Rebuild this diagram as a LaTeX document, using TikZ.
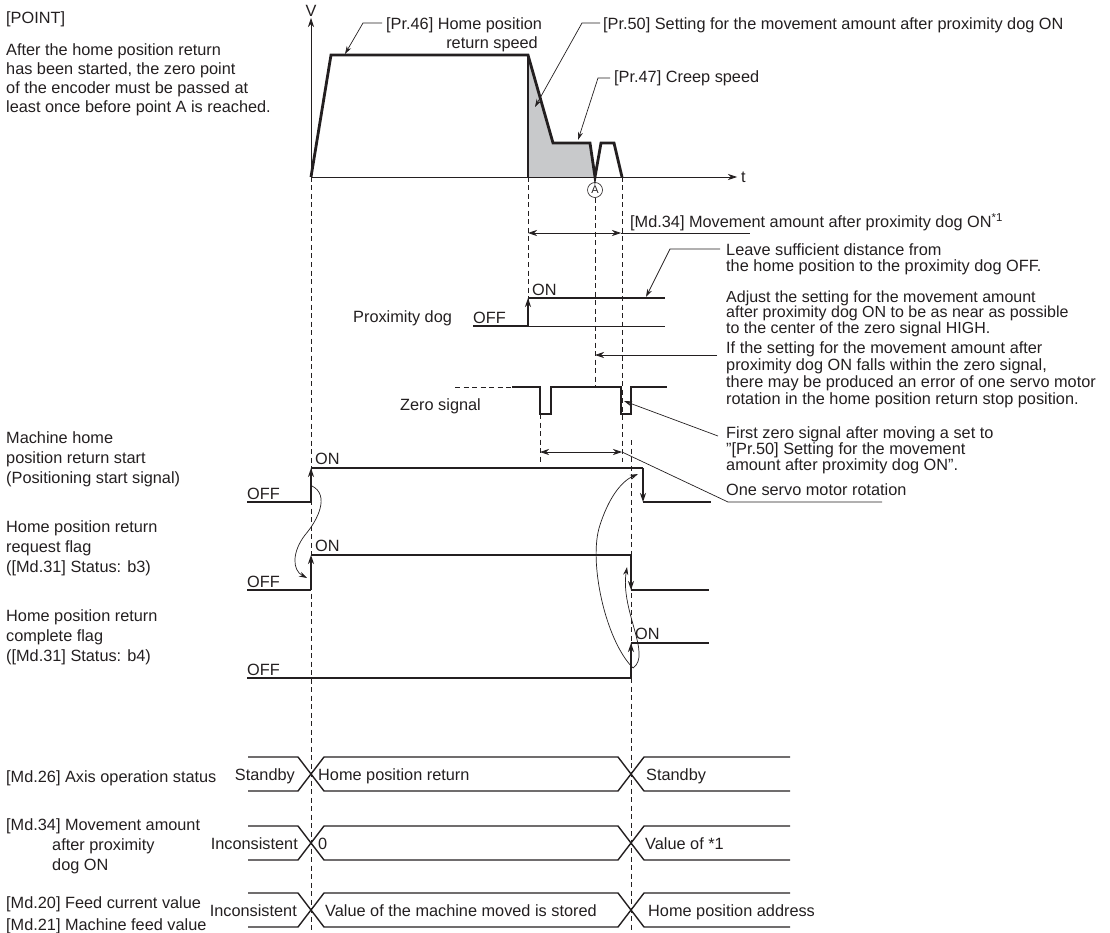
\documentclass[tikz,border=0pt]{standalone}
\usepackage{fontspec}
\setmainfont{Liberation Sans}
\usetikzlibrary{arrows.meta}
\definecolor{ink}{RGB}{35,31,32}
\definecolor{dogfill}{RGB}{200,201,203}
\begin{document}
\begin{tikzpicture}[x=1pt,y=-1pt,
  font=\fontsize{16.3}{19}\selectfont,
  every node/.style={text=ink},
  lbl/.style={anchor=base west, inner sep=0pt},
  lble/.style={anchor=base east, inner sep=0pt},
  sig/.style={draw=ink, line width=1.4pt},
  thin/.style={draw=ink, line width=0.7pt},
  guide/.style={draw=ink, line width=0.7pt, dash pattern=on 5pt off 3.5pt},
  prof/.style={draw=ink, line width=2.8pt, line join=miter},
  tip/.style={-{Stealth[length=9pt,width=6pt]}},
  tips/.style={{Stealth[length=9pt,width=6pt]}-{Stealth[length=9pt,width=6pt]}},
  stip/.style={-{Stealth[length=8pt,width=5pt]}},
  small/.style={font=\fontsize{16}{16}\selectfont},
]
\useasboundingbox (0,0) rectangle (1110,933);

% ---------- top-left note
\node[lbl] (point) at (6,24) {[POINT]};
\node[lbl] (p1) at (6,56) {After the home position return};
\node[lbl] (p2) at (6,75) {has been started, the zero point};
\node[lbl] (p3) at (6,94) {of the encoder must be passed at};
\node[lbl] (p4) at (6,113) {least once before point A is reached.};

% ---------- velocity profile
\fill[fill=dogfill] (528,177) -- (528,55) -- (553,143) -- (590,143) -- (594,177) -- cycle;
\draw[thin,tip] (311,177) -- (311,18);
\draw[thin,tip] (311,177) -- (737,177);
\node[lbl,anchor=base] (V) at (311,17) {V};
\node[lbl] (t) at (741,183) {t};
\draw[prof] (311,177) -- (331,55) -- (528,55) -- (553,143) -- (590,143) -- (595,177) -- (601,143) -- (614,143) -- (622,177);
\draw[prof] (528,55) -- (528,177);
\node[circle, draw=ink, line width=0.6pt, inner sep=0pt, minimum size=15pt, font=\fontsize{11}{11}\selectfont] (A) at (595,190) {A};

\node[lbl] (pr46a) at (386,30) {[Pr.46] Home position};
\node[lble] (pr46b) at (538,49) {return speed};
\draw[thin,stip] (382,23) -- (363,23) -- (345,54);
\node[lbl] (pr50) at (603,30) {[Pr.50] Setting for the movement amount after proximity dog ON};
\draw[thin,stip] (600,23) -- (582,23) -- (535,107);
\node[lbl] (pr47) at (614,83) {[Pr.47] Creep speed};
\draw[thin,stip] (610,78) -- (598,78) -- (578,140);

% ---------- guide lines
\draw[guide] (311,177) -- (311,930);
\draw[guide] (528,177) -- (528,300);
\draw[guide] (595,198) -- (595,387);
\draw[guide] (622,177) -- (622,462);
\draw[guide] (540,414) -- (540,462);
\draw[guide] (631,440) -- (631,930);

% ---------- Md.34 span
\draw[thin,tips] (528,233) -- (621,233);
\draw[thin] (621,233) -- (750,233);
\node[lbl] (md34t) at (630,228) {[Md.34] Movement amount after proximity dog ON\textsuperscript{*1}};

% ---------- proximity dog
\node[lbl] (pdog) at (353,322) {Proximity dog};
\draw[sig] (473,326) -- (528,326);
\draw[thin] (528,326) -- (665,326);
\draw[sig,tip] (528,326) -- (528,298);
\draw[sig] (528,298) -- (665,298);
\node[lbl] (pdoff) at (473,323) {OFF};
\node[lbl] (pdon) at (532,295) {ON};
\draw[thin,stip] (720,249) -- (670,249) -- (646,297);
\node[lbl] (leave1) at (726,255) {Leave sufficient distance from};
\node[lbl] (leave2) at (726,271) {the home position to the proximity dog OFF.};
\node[lbl,small] (adj1) at (726,302) {Adjust the setting for the movement amount};
\node[lbl,small] (adj2) at (726,317.5) {after proximity dog ON to be as near as possible};
\node[lbl,small] (adj3) at (726,333) {to the center of the zero signal HIGH.};
\node[lbl] (if1) at (726,353) {If the setting for the movement amount after};
\node[lbl] (if2) at (726,370) {proximity dog ON falls within the zero signal,};
\node[lbl] (if3) at (726,387) {there may be produced an error of one servo motor};
\node[lbl] (if4) at (726,404) {rotation in the home position return stop position.};
\draw[thin,tip] (717,355) -- (595,355);

% ---------- zero signal
\node[lbl] (zs) at (400,410) {Zero signal};
\draw[guide] (455,387) -- (512,387);
\draw[sig] (512,387) -- (540,387) -- (540,414) -- (551,414) -- (551,387) -- (621,387) -- (621,414) -- (631,414) -- (631,387) -- (667,387);
\draw[thin,stip] (718,436) -- (624,401);
\node[lbl] (fz1) at (726,438) {First zero signal after moving a set to};
\node[lbl] (fz2) at (726,454) {"[Pr.50] Setting for the movement};
\node[lbl] (fz3) at (726,470) {amount after proximity dog ON".};
\draw[thin,tips] (540,452) -- (622,452);
\node[lbl] (osm) at (726,495) {One servo motor rotation};
\draw[thin] (622,452) -- (728,502) -- (882,502);

% ---------- machine home position return start
\node[lbl] (m1) at (6,443) {Machine home};
\node[lbl] (m2) at (6,463) {position return start};
\node[lbl] (m3) at (6,483) {(Positioning start signal)};
\draw[sig] (247,502) -- (311,502);
\draw[sig,tip] (311,502) -- (311,468);
\draw[sig] (311,468) -- (643,468);
\draw[sig,tip] (643,468) -- (643,502);
\draw[sig] (643,502) -- (711,502);
\node[lbl] (moff) at (247,499) {OFF};
\node[lbl] (mon) at (315,464) {ON};

% ---------- request flag
\node[lbl] (r1) at (6,532) {Home position return};
\node[lbl] (r2) at (6,552) {request flag};
\node[lbl] (r3) at (6,572) {([Md.31] Status: b3)};
\draw[sig] (247,590) -- (311,590);
\draw[sig,tip] (311,590) -- (311,555);
\draw[sig] (311,555) -- (631,555);
\draw[sig,tip] (631,555) -- (631,590);
\draw[sig] (631,590) -- (709,590);
\node[lbl] (roff) at (247,587) {OFF};
\node[lbl] (ron) at (315,551) {ON};

% ---------- complete flag
\node[lbl] (c1) at (6,621) {Home position return};
\node[lbl] (c2) at (6,641) {complete flag};
\node[lbl] (c3) at (6,661) {([Md.31] Status: b4)};
\draw[sig] (247,678) -- (631,678);
\draw[sig,tip] (631,678) -- (631,643);
\draw[sig] (631,643) -- (709,643);
\node[lbl] (coff) at (247,675) {OFF};
\node[lbl] (con) at (635,639) {ON};

% ---------- causal curves
\draw[thin,stip] (312,486) .. controls (330,495) and (318,520) .. (305,535) .. controls (292,552) and (292,570) .. (307,578);
\draw[thin,stip] (633,668) .. controls (652,655) and (620,610) .. (627,567);
\draw[thin,stip] (633,668) .. controls (605,640) and (588,560) .. (600,525) .. controls (608,500) and (620,482) .. (638,474);

% ---------- buses
\foreach \yc in {774,843,910}{
  \draw[sig] (248,\yc-17) -- (298,\yc-17) -- (324,\yc+17) -- (618,\yc+17) -- (644,\yc-17) -- (790,\yc-17);
  \draw[sig] (248,\yc+17) -- (298,\yc+17) -- (324,\yc-17) -- (618,\yc-17) -- (644,\yc+17) -- (790,\yc+17);
}
\node[lbl] (s1) at (6,782) {[Md.26] Axis operation status};
\node[lble] (s1a) at (295,780) {Standby};
\node[lbl] (s1b) at (318,780) {Home position return};
\node[lbl] (s1c) at (646,780) {Standby};

\node[lbl] (s2) at (6,830) {[Md.34] Movement amount};
\node[lbl] (s2b) at (52,850) {after proximity};
\node[lbl] (s2c) at (52,870) {dog ON};
\node[lble] (s2x) at (298,849) {Inconsistent};
\node[lbl] (s2y) at (318,849) {0};
\node[lbl] (s2z) at (645,849) {Value of *1};

\node[lbl] (s3) at (6,908) {[Md.20] Feed current value};
\node[lbl] (s3b) at (6,930) {[Md.21] Machine feed value};
\node[lble] (s3x) at (297,916) {Inconsistent};
\node[lbl] (s3y) at (325,916) {Value of the machine moved is stored};
\node[lbl] (s3z) at (648,916) {Home position address};
\end{tikzpicture}
\end{document}
